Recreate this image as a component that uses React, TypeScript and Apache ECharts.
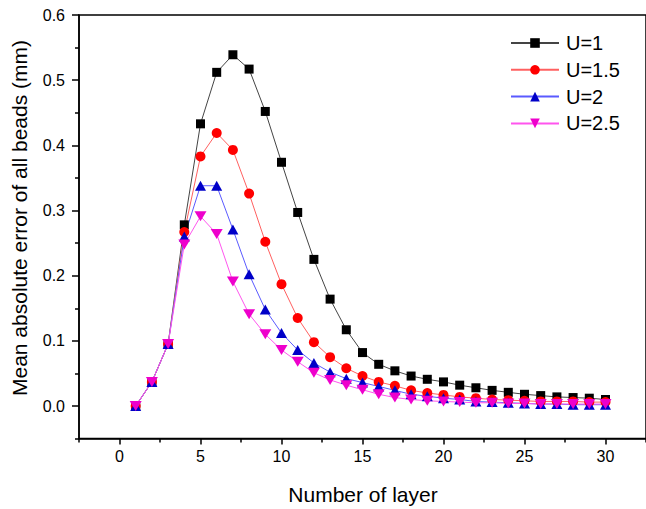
import React, { useEffect, useRef } from "react";
import * as echarts from "echarts";

const layers = [1, 2, 3, 4, 5, 6, 7, 8, 9, 10, 11, 12, 13, 14, 15, 16, 17, 18, 19, 20, 21, 22, 23, 24, 25, 26, 27, 28, 29, 30];
const seriesNames = ["U=1", "U=1.5", "U=2", "U=2.5"];
const u1 = [0, 0.037, 0.095, 0.278, 0.433, 0.512, 0.539, 0.517, 0.452, 0.374, 0.297, 0.225, 0.164, 0.117, 0.082, 0.064, 0.054, 0.046, 0.041, 0.037, 0.032, 0.028, 0.024, 0.021, 0.018, 0.016, 0.014, 0.013, 0.012, 0.010];
const u15 = [0, 0.037, 0.095, 0.267, 0.383, 0.419, 0.393, 0.326, 0.252, 0.187, 0.135, 0.098, 0.075, 0.058, 0.046, 0.037, 0.031, 0.024, 0.020, 0.017, 0.014, 0.012, 0.010, 0.009, 0.008, 0.007, 0.007, 0.007, 0.006, 0.006];
const u2 = [0, 0.037, 0.095, 0.260, 0.338, 0.338, 0.271, 0.202, 0.148, 0.112, 0.086, 0.066, 0.052, 0.042, 0.036, 0.030, 0.024, 0.018, 0.015, 0.012, 0.010, 0.007, 0.006, 0.005, 0.004, 0.003, 0.003, 0.002, 0.002, 0.002];
const u25 = [0, 0.037, 0.095, 0.248, 0.291, 0.264, 0.191, 0.141, 0.110, 0.086, 0.068, 0.051, 0.040, 0.032, 0.025, 0.018, 0.013, 0.010, 0.008, 0.007, 0.006, 0.005, 0.005, 0.004, 0.004, 0.003, 0.003, 0.003, 0.003, 0.003];

const xMajor = [0, 5, 10, 15, 20, 25, 30];
const xMinor = [-2.5, 2.5, 7.5, 12.5, 17.5, 22.5, 27.5, 32.5];
const yMajor = [0, 0.1, 0.2, 0.3, 0.4, 0.5, 0.6];
const yMinor = [-0.05, 0.05, 0.15, 0.25, 0.35, 0.45, 0.55];

const FONT = "'Liberation Sans', Arial, sans-serif";

export default function App() {
  const ref = useRef<HTMLDivElement>(null);
  useEffect(() => {
    if (!ref.current) return;
    const chart = echarts.init(ref.current, null, { renderer: "svg" });
    const values = [u1, u15, u2, u25];
    const markerColors = ["#000000", "#ff0000", "#0000c8", "#ee00cc"];
    const lineColors = ["#444444", "#ff6060", "#5a5aff", "#ff55ee"];
    const symbols = ["rect", "circle", "triangle", "path://M0,0 L12,0 L6,10 Z"];
    const sizes: any[] = [9, 10, [11, 10], [12, 10]];
    const axisLine = { show: true, onZero: false, lineStyle: { color: "#000", width: 1.5 } };
    const hiddenLine = { show: false, onZero: false };
    const grid = { left: 79, top: 15, width: 568, height: 423.6, show: true, borderColor: "#000", borderWidth: 1.5, backgroundColor: "transparent" };
    chart.setOption({
      animation: false,
      backgroundColor: "#ffffff",
      textStyle: { fontFamily: FONT },
      grid,
      legend: {
        show: true,
        orient: "vertical",
        left: 505,
        top: 28,
        itemWidth: 48,
        itemHeight: 12,
        itemGap: 6.8,
        selectedMode: false,
        data: seriesNames,
        textStyle: { fontFamily: FONT, fontSize: 20, color: "#000", lineHeight: 20, padding: [0, 0, 0, 2] },
      },
      xAxis: [
        {
          type: "value",
          min: -2.5,
          max: 32.5,
          interval: 2.5,
          axisLine,
          splitLine: { show: false },
          axisTick: { show: true, length: 6, inside: false, customValues: xMajor, lineStyle: { color: "#000", width: 1.5 } },
          axisLabel: { show: true, customValues: xMajor, margin: 10, fontSize: 16, color: "#000", fontFamily: FONT },
        },
        {
          type: "value",
          min: -2.5,
          max: 32.5,
          interval: 2.5,
          position: "bottom",
          axisLine: hiddenLine,
          splitLine: { show: false },
          axisTick: { show: true, length: 4, inside: false, customValues: xMinor, lineStyle: { color: "#000", width: 1.5 } },
          axisLabel: { show: false },
        },
      ],
      yAxis: [
        {
          type: "value",
          min: -0.05,
          max: 0.6,
          interval: 0.05,
          axisLine,
          splitLine: { show: false },
          axisTick: { show: true, length: 7, inside: false, customValues: yMajor, lineStyle: { color: "#000", width: 1.5 } },
          axisLabel: {
            show: true,
            customValues: yMajor,
            margin: 14,
            fontSize: 16,
            color: "#000",
            fontFamily: FONT,
            formatter: (v: number) => v.toFixed(1),
          },
        },
        {
          type: "value",
          min: -0.05,
          max: 0.6,
          interval: 0.05,
          position: "left",
          axisLine: hiddenLine,
          splitLine: { show: false },
          axisTick: { show: true, length: 4, inside: false, customValues: yMinor, lineStyle: { color: "#000", width: 1.5 } },
          axisLabel: { show: false },
        },
      ],
      series: seriesNames.map((name, i) => ({
        name,
        type: "line",
        xAxisIndex: 0,
        yAxisIndex: 0,
        data: layers.map((l, j) => [l, values[i][j]]),
        symbol: symbols[i],
        symbolSize: sizes[i],
        showAllSymbol: true,
        lineStyle: { color: lineColors[i], width: 1 },
        itemStyle: { color: markerColors[i], borderWidth: 0 },
        emphasis: { disabled: true },
      })),
      graphic: [
        {
          type: "text",
          x: 363,
          y: 494,
          style: { text: "Number of layer", fontSize: 21, fontFamily: FONT, fill: "#000", align: "center", verticalAlign: "middle" },
        },
        {
          type: "text",
          x: 19,
          y: 218,
          rotation: Math.PI / 2,
          style: { text: "Mean absolute error of all beads (mm)", fontSize: 21, fontFamily: FONT, fill: "#000", align: "center", verticalAlign: "middle" },
        },
      ],
    });
    return () => chart.dispose();
  }, []);
  return <div ref={ref} style={{ position: "fixed", left: 0, top: 0, width: 646, height: 509 }} />;
}
